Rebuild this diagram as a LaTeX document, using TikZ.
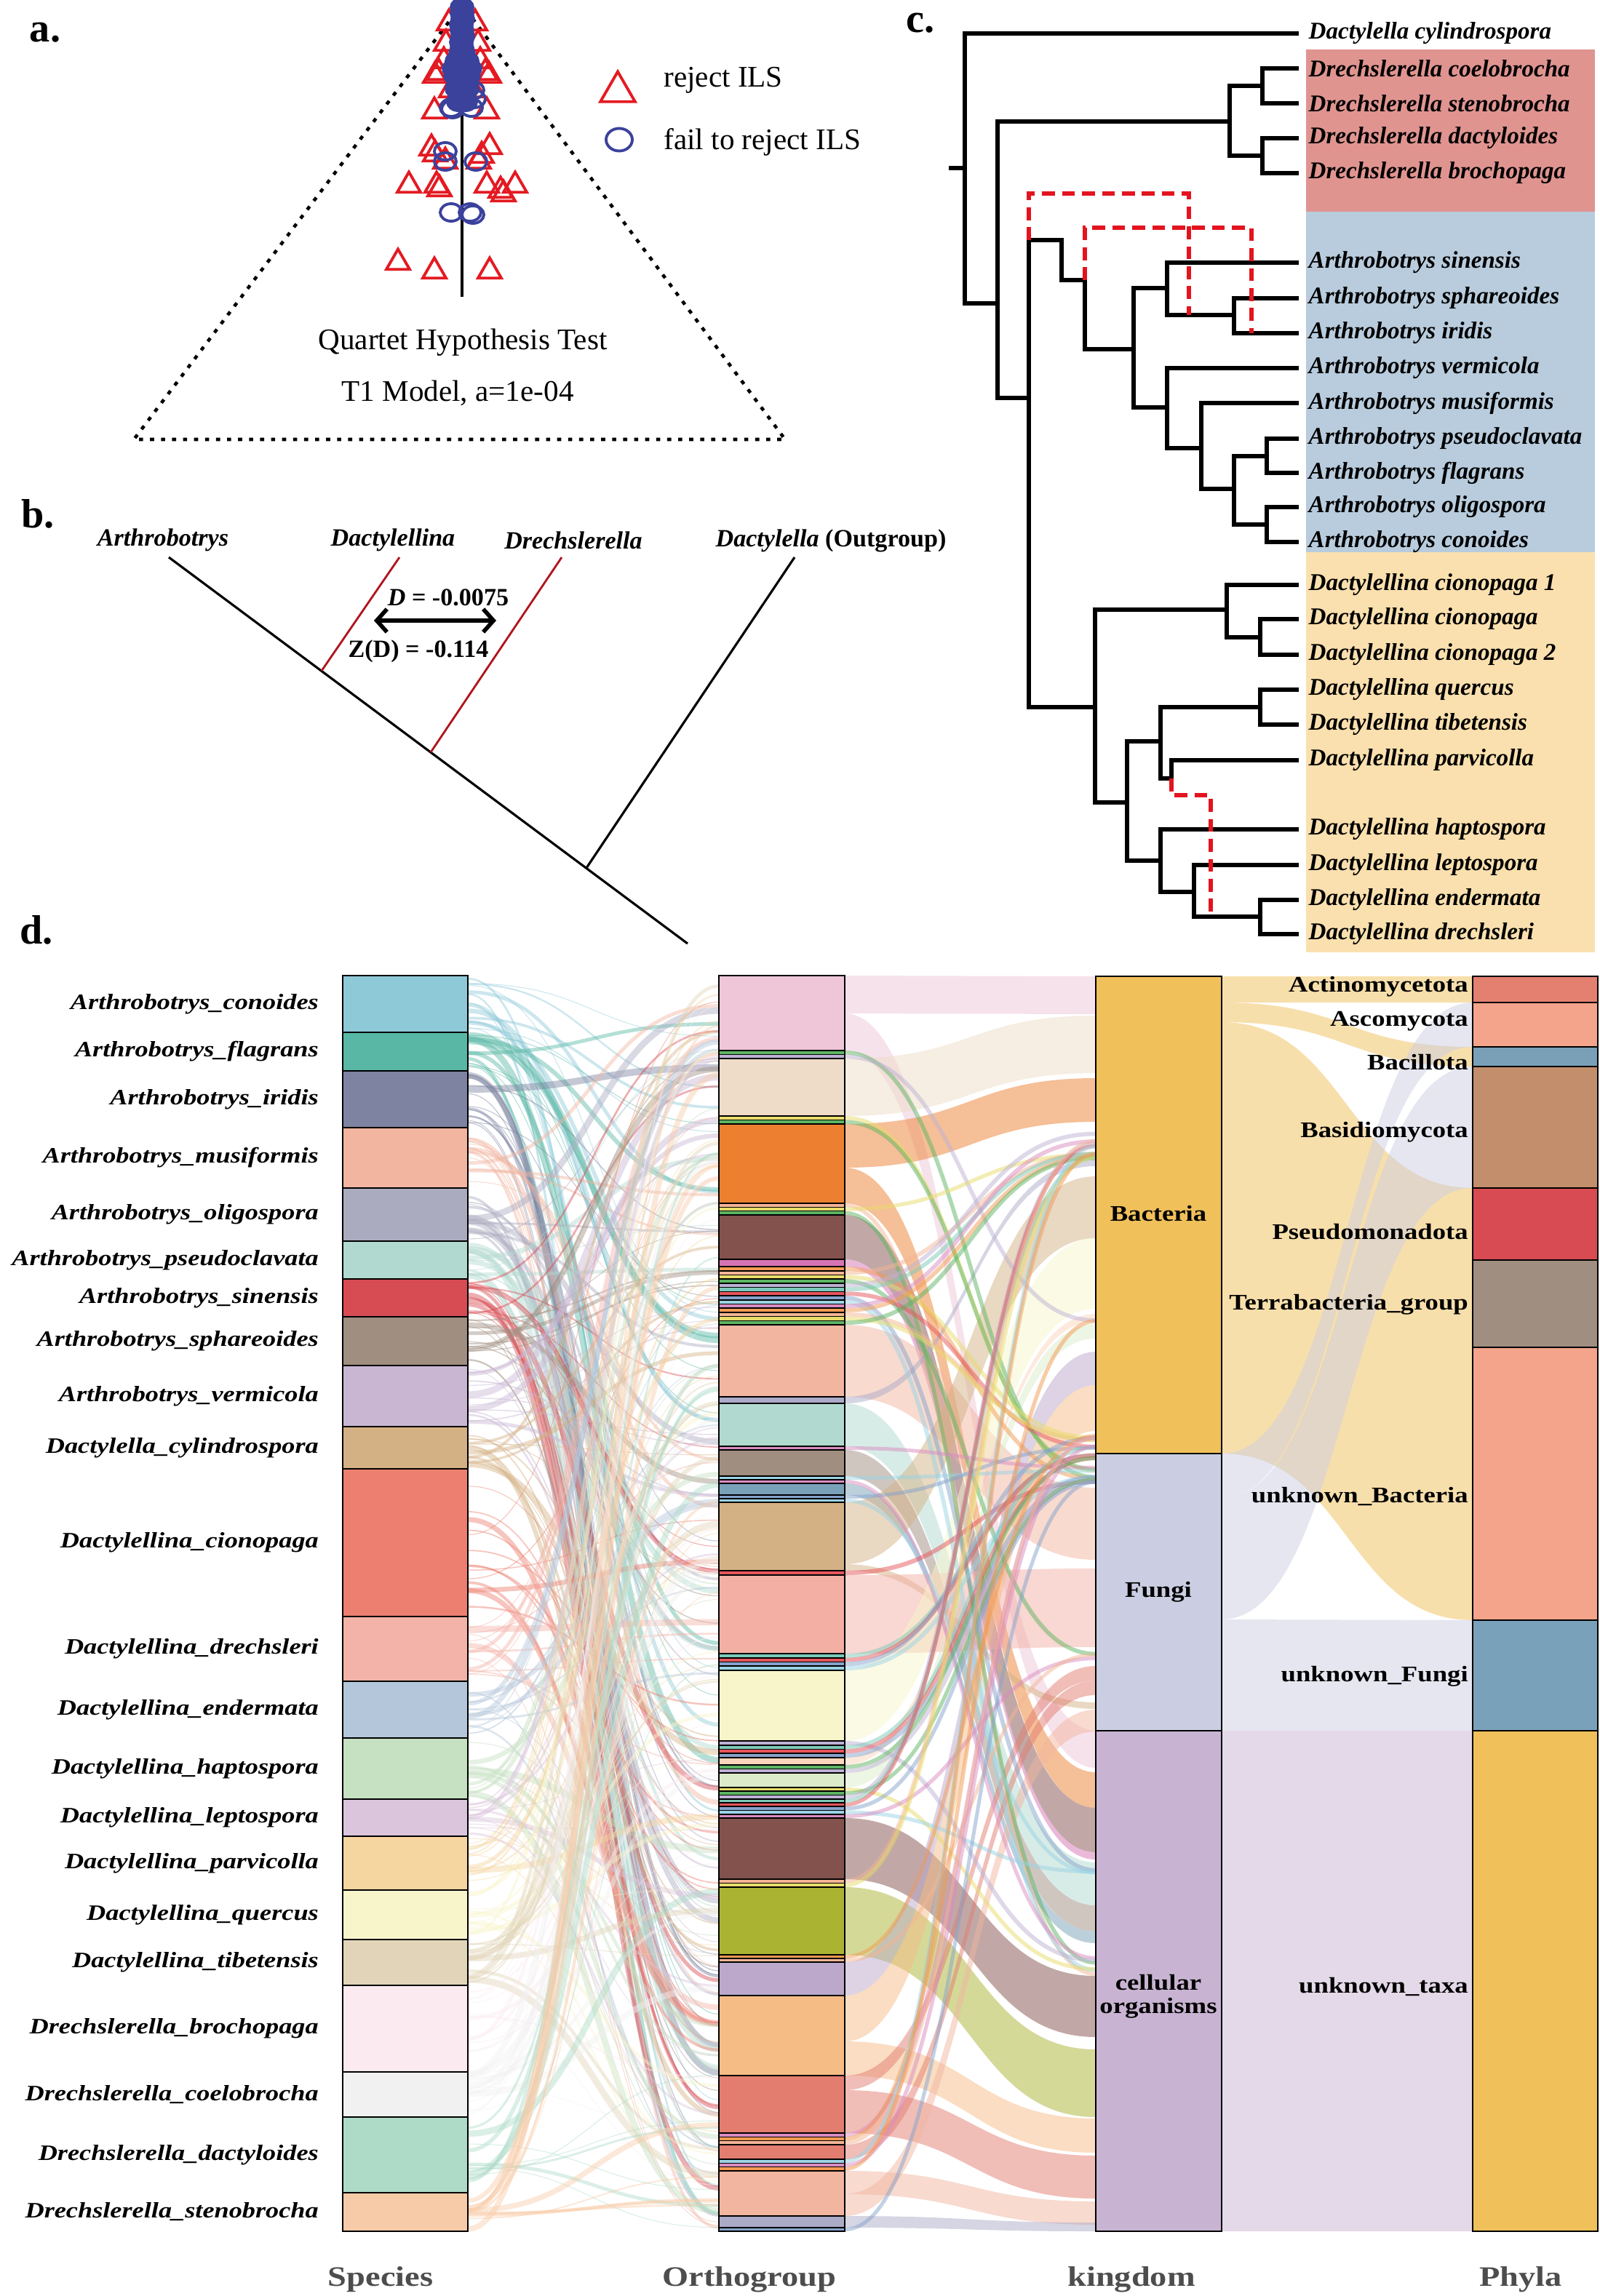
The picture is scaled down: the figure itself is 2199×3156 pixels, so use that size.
\documentclass[tikz,border=0pt]{standalone}
\usepackage{fontspec}
\setmainfont{Liberation Serif}
\newfontfamily\widefont[FakeStretch=1.2]{Liberation Serif}
\usetikzlibrary{shapes.geometric,arrows.meta}

\definecolor{ilsred}{HTML}{E41A22}
\definecolor{ilsblue}{HTML}{3B429C}
\definecolor{introred}{HTML}{E3141E}
\definecolor{branchred}{HTML}{B0151E}
\definecolor{boxdre}{HTML}{E09490}
\definecolor{boxart}{HTML}{B8CCDD}
\definecolor{boxdac}{HTML}{FAE0AE}
\definecolor{axisgray}{HTML}{4D4D4D}
\definecolor{spCon}{HTML}{8EC9D8}
\definecolor{spFla}{HTML}{58B7A5}
\definecolor{spIri}{HTML}{7D83A0}
\definecolor{spMus}{HTML}{F1B5A0}
\definecolor{spOli}{HTML}{ABABC0}
\definecolor{spPse}{HTML}{B1D9CF}
\definecolor{spSin}{HTML}{D74B52}
\definecolor{spSph}{HTML}{A08E80}
\definecolor{spVer}{HTML}{C8B6D3}
\definecolor{spCyl}{HTML}{D4B185}
\definecolor{spCio}{HTML}{EC7F6F}
\definecolor{spDre}{HTML}{F3B3A8}
\definecolor{spEnd}{HTML}{B4C6DA}
\definecolor{spHap}{HTML}{C6E0C2}
\definecolor{spLep}{HTML}{DBC5DC}
\definecolor{spPar}{HTML}{F5D5A0}
\definecolor{spQue}{HTML}{F8F5CB}
\definecolor{spTib}{HTML}{E1D4B8}
\definecolor{spBro}{HTML}{FBEBF0}
\definecolor{spCoe}{HTML}{F1F1F1}
\definecolor{spDac}{HTML}{AEDBC8}
\definecolor{spSte}{HTML}{F8CBA8}
\definecolor{ogPink}{HTML}{EEC6D8}
\definecolor{ogBeige}{HTML}{EEDCC8}
\definecolor{ogOrange}{HTML}{EC8030}
\definecolor{ogBrown}{HTML}{83524D}
\definecolor{ogMagenta}{HTML}{D574B4}
\definecolor{ogSalmon}{HTML}{F1B5A0}
\definecolor{ogLav}{HTML}{ABABC8}
\definecolor{ogTeal}{HTML}{B1D9CF}
\definecolor{ogTaupe}{HTML}{A08E80}
\definecolor{ogSteel}{HTML}{7AA1BA}
\definecolor{ogTan}{HTML}{D4B185}
\definecolor{ogRose}{HTML}{F4AFA5}
\definecolor{ogCream}{HTML}{F8F5CB}
\definecolor{ogPeach}{HTML}{FBD5BB}
\definecolor{ogMint}{HTML}{DCEBC9}
\definecolor{ogOlive}{HTML}{AAB432}
\definecolor{ogLilac}{HTML}{BBA8CB}
\definecolor{ogApricot}{HTML}{F5BC86}
\definecolor{ogCoral}{HTML}{E27D70}
\definecolor{stripe0}{HTML}{5DB462}
\definecolor{stripe1}{HTML}{E6555C}
\definecolor{stripe2}{HTML}{D98CC0}
\definecolor{stripe3}{HTML}{E8DC6A}
\definecolor{stripe4}{HTML}{7CC9B8}
\definecolor{stripe5}{HTML}{9AD3E4}
\definecolor{stripe6}{HTML}{F4B596}
\definecolor{stripe7}{HTML}{BDB2D4}
\definecolor{stripe8}{HTML}{86A3CC}
\definecolor{stripe9}{HTML}{F29A52}
\definecolor{kBac}{HTML}{F0C05A}
\definecolor{kFun}{HTML}{CBCEE2}
\definecolor{kCel}{HTML}{C8B4D2}
\definecolor{phAct}{HTML}{E38070}
\definecolor{phAsc}{HTML}{F3A48A}
\definecolor{phBac}{HTML}{7AA0B8}
\definecolor{phBas}{HTML}{C28E6C}
\definecolor{phPse}{HTML}{D84B52}
\definecolor{phTer}{HTML}{A08E80}
\definecolor{phUnB}{HTML}{F3A48A}
\definecolor{phUnF}{HTML}{7AA1BA}
\definecolor{phUnT}{HTML}{F0C05A}

\pgfdeclarelayer{flows}
\pgfsetlayers{flows,main}

\tikzstyle{panel}=[font=\fontsize{16}{16}\selectfont\bfseries]
\tikzstyle{qframe}=[line width=1.3pt, dash pattern=on 1.6pt off 2.7pt]
\tikzstyle{tri}=[regular polygon, regular polygon sides=3, draw=ilsred, line width=1.1pt, minimum size=0.37cm, inner sep=0pt]
\tikzstyle{ovl}=[ellipse, draw=ilsblue, line width=1.1pt, minimum width=0.30cm, minimum height=0.24cm, inner sep=0pt]
\tikzstyle{qtext}=[font=\fontsize{11.7}{12}\selectfont]
\tikzstyle{keytext}=[anchor=west, font=\fontsize{11.7}{12}\selectfont]
\tikzstyle{tiplab}=[font=\fontsize{9.7}{10}\selectfont\bfseries]
\tikzstyle{branch}=[line width=1.7pt, line cap=rect]
\tikzstyle{hgt}=[introred, line width=1.7pt, dash pattern=on 5pt off 2.8pt]
\tikzstyle{leaf}=[anchor=west, inner xsep=0.16cm, inner ysep=1pt, font=\fontsize{9.4}{10}\selectfont\bfseries\itshape]
\tikzstyle{segbox}=[draw=black, line width=0.7pt]
\tikzstyle{splab}=[anchor=east, inner sep=1pt, font=\fontsize{8.6}{9}\widefont\bfseries\itshape]
\tikzstyle{txlab}=[inner sep=1pt, font=\fontsize{8.7}{9}\widefont\bfseries]
\tikzstyle{axlab}=[text=axisgray, font=\fontsize{11}{11}\widefont\bfseries]

\newcommand{\flowband}[7]{%
  \pgfmathsetmacro{\bandmid}{(#1+#4)/2}%
  \fill[#7, fill opacity=0.5] (#1,#2) .. controls (\bandmid,#2) and (\bandmid,#5) .. (#4,#5)
    -- (#4,#6) .. controls (\bandmid,#6) and (\bandmid,#3) .. (#1,#3) -- cycle;}

\begin{document}
\begin{tikzpicture}[x=0.01cm, y=-0.01cm]
\useasboundingbox (0,0) rectangle (2199,3156);
\pgfmathsetseed{17}

% a. quartet test
\node[panel] (aLab) at (62,45) {a.};
\coordinate (aTop) at (635,6);
\coordinate (aLeft) at (184,604);
\coordinate (aRight) at (1079,604);
\draw[qframe] (aTop) -- (aLeft) -- (aRight) -- cycle;
\coordinate (aStem) at (635,8);
\coordinate (aFoot) at (635,408);
\draw[line width=0.9pt] (aStem) -- (aFoot);
\foreach \x/\y [count=\i] in {617/32, 653/32, 613/60, 657/60, 610/84, 660/84, 603/100, 667/100,
    598/104, 672/104, 620/124, 650/124, 597/153, 669/153, 593/204, 673/202, 598/212, 612/222,
    658/222, 662/214, 562/255, 600/255, 604/260, 669/255, 708/255, 692/267, 688/262, 547/361,
    597/373, 673/373}
  \node[tri] (t\i) at (\x,\y) {};
\foreach \x/\y [count=\i] in {635/10, 635/18, 636/26, 634/34, 635/42, 636/50, 634/58, 635/66,
    633/74, 637/74, 628/84, 642/84, 624/94, 646/94, 626/104, 644/104, 630/112, 640/112,
    628/122, 642/122, 632/132, 638/132, 630/140, 640/140}
  \node[ovl, fill=ilsblue] (b\i) at (\x,\y) {};
\foreach \x/\y [count=\i] in {650/124, 652/136, 620/148, 648/148, 622/150, 612/208, 612/222,
    654/222, 620/292, 646/292, 650/295}
  \node[ovl] (o\i) at (\x,\y) {};
\node[tri, minimum size=0.55cm] (aKeyT) at (849,126) {};
\node[keytext] (aKeyTl) at (900,110) {reject ILS};
\node[ovl, minimum width=0.36cm, minimum height=0.31cm] (aKeyO) at (851,192) {};
\node[keytext] (aKeyOl) at (900,195) {fail to reject ILS};
\node[qtext] (aTitle) at (636,471) {Quartet Hypothesis Test};
\node[qtext] (aModel) at (629,540) {T1 Model, a=1e-04};

% b. D statistic
\node[panel] (bLab) at (52,706) {b.};
\node[tiplab] (bArt) at (224,742) {\textit{Arthrobotrys}};
\node[tiplab] (bDcl) at (540,742) {\textit{Dactylellina}};
\node[tiplab] (bDre) at (788,743) {\textit{Drechslerella}};
\node[tiplab] (bOut) at (1142,743) {\textit{Dactylella} (Outgroup)};
\coordinate (bArtTip) at (232,766);
\coordinate (bDclTip) at (549,766);
\coordinate (bDreTip) at (772,766);
\coordinate (bOutTip) at (1092,766);
\coordinate (bDclJ) at (442,922);
\coordinate (bDreJ) at (592,1034);
\coordinate (bOutJ) at (806,1193);
\coordinate (bRoot) at (945,1297);
\draw[line width=0.9pt] (bArtTip) -- (bRoot);
\draw[line width=0.8pt, branchred] (bDclTip) -- (bDclJ);
\draw[line width=0.8pt, branchred] (bDreTip) -- (bDreJ);
\draw[line width=0.9pt] (bOutTip) -- (bOutJ);
\node[tiplab] (bD) at (616,821) {\textit{D} = -0.0075};
\node[tiplab] (bZ) at (575,895) {Z(D) = -0.114};
\coordinate (bArrL) at (514,853);
\coordinate (bArrR) at (682,853);
\draw[line width=1.6pt, {Straight Barb[length=4pt,width=9pt]}-{Straight Barb[length=4pt,width=9pt]}] (bArrL) -- (bArrR);

% c. species tree
\node[panel] (cLab) at (1265,32) {c.};
\fill[boxdre] (1795,68) rectangle (2192,291);
\fill[boxart] (1795,291) rectangle (2192,759);
\fill[boxdac] (1795,759) rectangle (2192,1309);
\foreach \y/\nm/\lab in {46/Dcyl/Dactylella cylindrospora, 94/Dcoe/Drechslerella coelobrocha,
    142/Dste/Drechslerella stenobrocha, 190/Ddac/Drechslerella dactyloides,
    238/Dbro/Drechslerella brochopaga, 361/Asin/Arthrobotrys sinensis,
    410/Asph/Arthrobotrys sphareoides, 458/Airi/Arthrobotrys iridis,
    506/Aver/Arthrobotrys vermicola, 554/Amus/Arthrobotrys musiformis,
    603/Apse/Arthrobotrys pseudoclavata, 650/Afla/Arthrobotrys flagrans,
    697/Aoli/Arthrobotrys oligospora, 745/Acon/Arthrobotrys conoides,
    804/Dcio1/Dactylellina cionopaga 1, 851/Dcio/Dactylellina cionopaga,
    900/Dcio2/Dactylellina cionopaga 2, 948/Dque/Dactylellina quercus,
    996/Dtib/Dactylellina tibetensis, 1045/Dpar/Dactylellina parvicolla,
    1140/Dhap/Dactylellina haptospora, 1189/Dlep/Dactylellina leptospora,
    1237/Dend/Dactylellina endermata, 1284/Ddre/Dactylellina drechsleri}
  \node[leaf] (\nm) at (1782,\y) {\lab};
\coordinate (cRs) at (1307,231);
\coordinate (cR) at (1326,231);
\coordinate (cP) at (1371,417);
\coordinate (cDre) at (1690,167);
\coordinate (cDre1) at (1735,118);
\coordinate (cDre2) at (1735,214);
\coordinate (cAD) at (1414,547);
\coordinate (cA0) at (1459,330);
\coordinate (cA1) at (1491,385);
\coordinate (cA2) at (1558,480);
\coordinate (cA3) at (1604,396);
\coordinate (cA5) at (1696,433);
\coordinate (cA4) at (1604,560);
\coordinate (cA6) at (1651,616);
\coordinate (cA7) at (1696,672);
\coordinate (cA8) at (1741,627);
\coordinate (cA9) at (1741,721);
\coordinate (cD0) at (1505,972);
\coordinate (cD1) at (1686,838);
\coordinate (cD3) at (1732,876);
\coordinate (cD2) at (1549,1103);
\coordinate (cD4) at (1595,1019);
\coordinate (cD6) at (1732,972);
\coordinate (cD7) at (1610,1070);
\coordinate (cD5) at (1595,1183);
\coordinate (cD8) at (1641,1226);
\coordinate (cD9) at (1732,1260);
\coordinate (cH1) at (1634,433);
\coordinate (cH2) at (1720,458);
\coordinate (cH3) at (1664,1260);
\draw[branch] (cRs) -- (cR);
\draw[branch] (cR) |- (Dcyl.west);
\draw[branch] (cR) |- (cP);
\draw[branch] (cP) |- (cDre);
\draw[branch] (cDre) |- (cDre1);
\draw[branch] (cDre) |- (cDre2);
\draw[branch] (cDre1) |- (Dcoe.west);
\draw[branch] (cDre1) |- (Dste.west);
\draw[branch] (cDre2) |- (Ddac.west);
\draw[branch] (cDre2) |- (Dbro.west);
\draw[branch] (cP) |- (cAD);
\draw[branch] (cAD) |- (cA0);
\draw[branch] (cA0) |- (cA1);
\draw[branch] (cA1) |- (cA2);
\draw[branch] (cA2) |- (cA3);
\draw[branch] (cA2) |- (cA4);
\draw[branch] (cA3) |- (Asin.west);
\draw[branch] (cA3) |- (cA5);
\draw[branch] (cA5) |- (Asph.west);
\draw[branch] (cA5) |- (Airi.west);
\draw[branch] (cA4) |- (Aver.west);
\draw[branch] (cA4) |- (cA6);
\draw[branch] (cA6) |- (Amus.west);
\draw[branch] (cA6) |- (cA7);
\draw[branch] (cA7) |- (cA8);
\draw[branch] (cA7) |- (cA9);
\draw[branch] (cA8) |- (Apse.west);
\draw[branch] (cA8) |- (Afla.west);
\draw[branch] (cA9) |- (Aoli.west);
\draw[branch] (cA9) |- (Acon.west);
\draw[branch] (cAD) |- (cD0);
\draw[branch] (cD0) |- (cD1);
\draw[branch] (cD0) |- (cD2);
\draw[branch] (cD1) |- (Dcio1.west);
\draw[branch] (cD1) |- (cD3);
\draw[branch] (cD3) |- (Dcio.west);
\draw[branch] (cD3) |- (Dcio2.west);
\draw[branch] (cD2) |- (cD4);
\draw[branch] (cD2) |- (cD5);
\draw[branch] (cD4) |- (cD6);
\draw[branch] (cD4) |- (cD7);
\draw[branch] (cD6) |- (Dque.west);
\draw[branch] (cD6) |- (Dtib.west);
\draw[branch] (cD7) |- (Dpar.west);
\draw[branch] (cD5) |- (Dhap.west);
\draw[branch] (cD5) |- (cD8);
\draw[branch] (cD8) |- (Dlep.west);
\draw[branch] (cD8) |- (cD9);
\draw[branch] (cD9) |- (Dend.west);
\draw[branch] (cD9) |- (Ddre.west);
\draw[hgt] (cAD |- cA0) |- (1634,266) -- (cH1);
\draw[hgt] (cA1) |- (1720,313) -- (cH2);
\draw[hgt] (cD7) |- (1664,1093) -- (cH3);

% d. sankey
\node[panel] (dLab) at (50,1278) {d.};
\foreach \ya/\yb/\col/\spname [count=\i] in {1341/1419/spCon/Arthrobotrys\_conoides,
    1419/1472/spFla/Arthrobotrys\_flagrans, 1472/1550/spIri/Arthrobotrys\_iridis,
    1550/1633/spMus/Arthrobotrys\_musiformis, 1633/1706/spOli/Arthrobotrys\_oligospora,
    1706/1758/spPse/Arthrobotrys\_pseudoclavata, 1758/1810/spSin/Arthrobotrys\_sinensis,
    1810/1877/spSph/Arthrobotrys\_sphareoides, 1877/1961/spVer/Arthrobotrys\_vermicola,
    1961/2019/spCyl/Dactylella\_cylindrospora, 2019/2222/spCio/Dactylellina\_cionopaga,
    2222/2311/spDre/Dactylellina\_drechsleri, 2311/2389/spEnd/Dactylellina\_endermata,
    2389/2473/spHap/Dactylellina\_haptospora, 2473/2524/spLep/Dactylellina\_leptospora,
    2524/2598/spPar/Dactylellina\_parvicolla, 2598/2666/spQue/Dactylellina\_quercus,
    2666/2729/spTib/Dactylellina\_tibetensis, 2729/2848/spBro/Drechslerella\_brochopaga,
    2848/2910/spCoe/Drechslerella\_coelobrocha, 2910/3014/spDac/Drechslerella\_dactyloides,
    3014/3067/spSte/Drechslerella\_stenobrocha} {
  \draw[segbox, fill=\col] (471,\ya) rectangle (643,\yb);
  \node[splab] (sp\i) at (442,{(\ya+\yb)/2}) {\spname};
  \begin{pgfonlayer}{flows}
    \foreach \k in {1,...,14} {
      \pgfmathsetmacro{\ys}{\ya+3+rnd*(\yb-\ya-6)}
      \pgfmathsetmacro{\ye}{1345+rnd*1718}
      \pgfmathsetmacro{\rr}{rnd}
      \pgfmathsetmacro{\lw}{0.3+2.4*\rr*\rr*\rr}
      \draw[\col, opacity=0.45, line width=\lw pt] (643,\ys) .. controls (815,\ys) and (815,\ye) .. (988,\ye);
    }
  \end{pgfonlayer}
}
\begin{pgfonlayer}{flows}
  \foreach \oa/\ob/\ka/\kb/\col in {1341/1393/1342/1394/ogPink, 1393/1444/2379/2430/ogPink,
      1455/1534/1396/1475/ogBeige, 1545/1605/1482/1542/ogOrange, 1605/1654/2436/2485/ogOrange,
      1670/1731/2485/2546/ogBrown, 1731/1741/2546/2556/ogMagenta, 1821/1920/2045/2144/ogSalmon,
      1920/1929/1594/1603/ogLav, 1929/1988/2560/2619/ogTeal, 1993/2029/2619/2655/ogTaupe,
      2039/2055/2655/2671/ogSteel, 2065/2150/1617/1702/ogTan, 2150/2159/2340/2349/ogTan,
      2165/2273/2156/2264/ogRose, 2296/2393/1702/1799/ogCream, 2416/2426/1806/1816/ogPeach,
      2437/2457/1820/1840/ogMint, 2499/2583/2716/2800/ogBrown, 2594/2687/2817/2910/ogOlive,
      2697/2743/1858/1904/ogLilac, 2743/2806/1904/1967/ogApricot, 2806/2853/2912/2959/ogApricot,
      2853/2873/2290/2310/ogCoral, 2873/2932/2963/3022/ogCoral, 2948/2968/2310/2330/ogCoral,
      2984/3016/3026/3058/ogSalmon, 3016/3046/2350/2380/ogSalmon, 3046/3062/3055/3067/ogLav}
    {\flowband{1161}{\oa}{\ob}{1506}{\ka}{\kb}{\col}}
  \foreach \ka/\kb/\pa/\pb/\col in {1342/1378/1342/1378/kBac, 1378/1405/1439/1466/kBac,
      1405/1504/1633/1732/kBac, 1504/1624/1732/1852/kBac, 1624/1998/1852/2227/kBac,
      1998/2059/1378/1439/kFun, 2059/2226/1466/1633/kFun, 2226/2379/2227/2379/kFun,
      2379/3067/2379/3067/kCel}
    {\flowband{1679}{\ka}{\kb}{2024}{\pa}{\pb}{\col}}
\end{pgfonlayer}
\foreach \ya/\yb/\col in {1341/1444/ogPink, 1455/1534/ogBeige, 1545/1654/ogOrange,
    1670/1731/ogBrown, 1731/1741/ogMagenta, 1821/1920/ogSalmon, 1920/1929/ogLav,
    1929/1988/ogTeal, 1993/2029/ogTaupe, 2039/2055/ogSteel, 2065/2159/ogTan, 2165/2273/ogRose,
    2296/2393/ogCream, 2416/2426/ogPeach, 2437/2457/ogMint, 2499/2583/ogBrown,
    2594/2687/ogOlive, 2697/2743/ogLilac, 2743/2853/ogApricot, 2853/2932/ogCoral,
    2948/2968/ogCoral, 2984/3046/ogSalmon, 3046/3062/ogLav}
  \draw[segbox, fill=\col] (988,\ya) rectangle (1161,\yb);
\foreach \ya/\yb/\nn [count=\sidx] in {1444/1455/2, 1534/1545/2, 1654/1670/3, 1741/1821/14,
    1988/1993/1, 2029/2039/2, 2055/2065/2, 2159/2165/1, 2273/2296/4, 2393/2416/4,
    2426/2437/2, 2457/2499/8, 2583/2594/2, 2687/2697/2, 2932/2948/3, 2968/2984/3, 3062/3067/1} {
  \pgfmathsetmacro{\hh}{(\yb-\ya)/\nn}
  \foreach \k in {1,...,\nn} {
    \pgfmathtruncatemacro{\sc}{mod(\sidx*3+\k*7,10)}
    \pgfmathsetmacro{\yt}{\ya+(\k-1)*\hh}
    \pgfmathsetmacro{\yu}{\ya+\k*\hh}
    \pgfmathsetmacro{\ym}{(\yt+\yu)/2}
    \pgfmathtruncatemacro{\gi}{int(rnd*14.99)}
    \pgfmathsetmacro{\ye}{{1552,1568,1584,1810,1828,1846,1972,1986,2000,2014,2030,2272,2566,2690,2706}[\gi]+rnd*8}
    \pgfmathsetmacro{\lw}{\hh*0.2845}
    \draw[line width=0.45pt, fill=stripe\sc] (988,\yt) rectangle (1161,\yu);
    \begin{pgfonlayer}{flows}
      \draw[stripe\sc, opacity=0.5, line width=\lw pt] (1161,\ym) .. controls (1333,\ym) and (1333,\ye) .. (1506,\ye);
    \end{pgfonlayer}
  }
}
\draw[segbox] (988,1341) rectangle (1161,3067);
\draw[segbox, fill=kBac] (1506,1342) rectangle (1679,1998);
\draw[segbox, fill=kFun] (1506,1998) rectangle (1679,2379);
\draw[segbox, fill=kCel] (1506,2379) rectangle (1679,3067);
\node[txlab] (kBacL) at (1592,1668) {Bacteria};
\node[txlab] (kFunL) at (1592,2188) {Fungi};
\node[txlab, align=center] (kCelL) at (1592,2744) {cellular\\organisms};
\foreach \ya/\yb/\col in {1342/1378/phAct, 1378/1439/phAsc, 1439/1466/phBac, 1466/1633/phBas,
    1633/1732/phPse, 1732/1852/phTer, 1852/2227/phUnB, 2227/2379/phUnF, 2379/3067/phUnT}
  \draw[segbox, fill=\col] (2024,\ya) rectangle (2196,\yb);
\foreach \y/\lab [count=\i] in {1356/Actinomycetota, 1404/Ascomycota, 1460/Bacillota,
    1556/Basidiomycota, 1693/Pseudomonadota, 1793/Terrabacteria\_group, 2057/unknown\_Bacteria,
    2304/unknown\_Fungi, 2731/unknown\_taxa}
  \node[txlab, anchor=east] (ph\i) at (2022,\y) {\lab};
\node[axlab] (axSp) at (523,3133) {Species};
\node[axlab] (axOg) at (1030,3133) {Orthogroup};
\node[axlab] (axKi) at (1555,3133) {kingdom};
\node[axlab] (axPh) at (2090,3133) {Phyla};
\end{tikzpicture}
\end{document}
